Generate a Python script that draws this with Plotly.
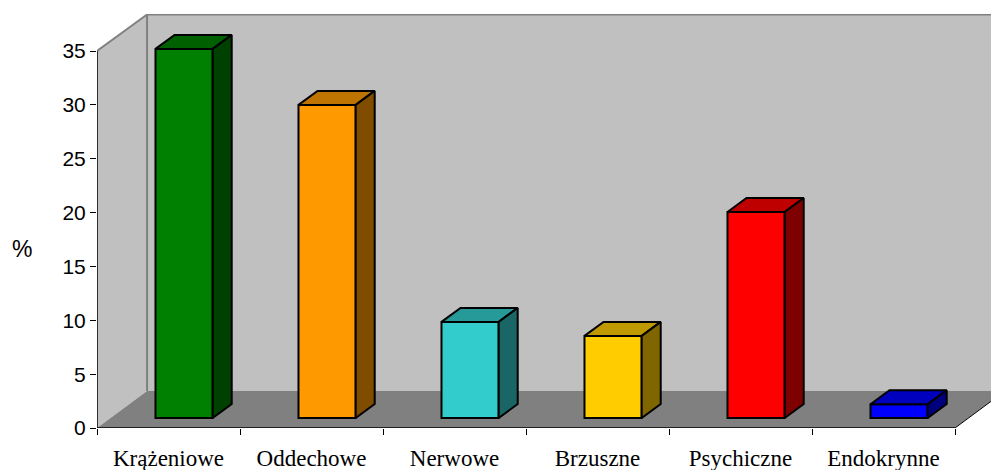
import plotly.graph_objects as go

categories = ["Krążeniowe", "Oddechowe", "Nerwowe", "Brzuszne", "Psychiczne", "Endokrynne"]
values = [35.2, 30.0, 9.85, 8.55, 20.05, 2.2]
front_colors = ["#008000", "#FF9900", "#33CCCC", "#FFCC00", "#FF0000", "#0000FF"]
top_colors = ["#006000", "#BF7300", "#269999", "#BF9900", "#BF0000", "#0000BF"]
side_colors = ["#004000", "#7F4C00", "#1A6666", "#7F6600", "#7F0000", "#00007F"]
y_ticks = [0, 5, 10, 15, 20, 25, 30, 35]

# Pseudo-3D box geometry, expressed in axis units
X_MAX = 894 / 143
Y_MAX = 38.44
WALL_DX, WALL_DY = 0.35, 3.44
BAR_DX, BAR_DY = 0.133, 1.3
BAR_WIDTH = 0.4
BAR_CENTER = 0.609
BAR_BASE = 0.93
N = len(categories)


def path(points):
    return "M " + " L ".join(f"{x},{y}" for x, y in points) + " Z"


def area(points, color, line="rgba(0,0,0,0)"):
    return dict(type="path", path=path(points), xref="x", yref="y", layer="below",
                fillcolor=color, line=dict(color=line, width=1.5))


def segment(x0, y0, x1, y1, color, width):
    return dict(type="line", x0=x0, y0=y0, x1=x1, y1=y1, xref="x", yref="y", layer="below",
                line=dict(color=color, width=width))


shapes = [
    area([(0, 0), (WALL_DX, WALL_DY), (WALL_DX, Y_MAX), (0, 35)], "#C0C0C0"),
    area([(WALL_DX, WALL_DY), (WALL_DX, Y_MAX), (X_MAX + 1, Y_MAX), (X_MAX + 1, WALL_DY)], "#C0C0C0"),
    area([(0, 0), (N, 0), (N + WALL_DX, WALL_DY), (WALL_DX, WALL_DY)], "#808080"),
    area([(N + WALL_DX, WALL_DY), (X_MAX + 1, WALL_DY), (X_MAX + 1, 0), (N, 0)], "#FFFFFF"),
    segment(0, 35, WALL_DX, Y_MAX - 0.05, "#808080", 2),
    segment(WALL_DX, Y_MAX - 0.05, X_MAX, Y_MAX - 0.05, "#808080", 2),
    segment(WALL_DX, WALL_DY, WALL_DX, Y_MAX, "#808080", 2),
    segment(N, 0, N + WALL_DX, WALL_DY, "#000000", 1),
    segment(0, 0, 0, 35, "#000000", 1.5),
    segment(0, 0, N, 0, "#000000", 1.5),
]

centers = [BAR_CENTER + i for i in range(N)]
fig = go.Figure()

# Front faces of the bars
fig.add_trace(go.Bar(
    x=centers,
    y=[v - BAR_BASE for v in values],
    base=BAR_BASE,
    width=BAR_WIDTH,
    marker=dict(color=front_colors, line=dict(color="#000000", width=2)),
    hoverinfo="skip",
))

# Top and side faces, offset from each front face along the depth direction
for i, (cx, v) in enumerate(zip(centers, values)):
    left, right = cx - BAR_WIDTH / 2, cx + BAR_WIDTH / 2
    top_x = [left, left + BAR_DX, right + BAR_DX, right, left]
    top_y = [v, v + BAR_DY, v + BAR_DY, v, v]
    side_x = [right, right + BAR_DX, right + BAR_DX, right, right]
    side_y = [BAR_BASE, BAR_BASE + BAR_DY, v + BAR_DY, v, BAR_BASE]
    for xs, ys, color in ((top_x, top_y, top_colors[i]), (side_x, side_y, side_colors[i])):
        fig.add_trace(go.Scatter(
            x=xs, y=ys, mode="lines", fill="toself", fillcolor=color,
            line=dict(color="#000000", width=2), hoverinfo="skip",
        ))

fig.update_layout(
    width=991, height=470,
    margin=dict(l=97, r=0, t=14, b=42, autoexpand=False),
    paper_bgcolor="#FFFFFF", plot_bgcolor="#FFFFFF",
    showlegend=False,
    shapes=shapes,
    xaxis=dict(
        range=[0, X_MAX], showgrid=False, zeroline=False, showline=False, automargin=False,
        tickmode="array", tickvals=[i + 0.5 for i in range(N)], ticktext=categories,
        ticks="", ticklabelstandoff=14,
        tickfont=dict(family="Liberation Serif", size=23, color="#000000"),
        minor=dict(tickmode="array", tickvals=list(range(N + 1)), ticks="outside",
                   ticklen=6, tickwidth=1, tickcolor="#000000", showgrid=False),
    ),
    yaxis=dict(
        range=[0, Y_MAX], showgrid=False, zeroline=False, showline=False, automargin=False,
        tickmode="array", tickvals=y_ticks, ticks="outside", ticklen=6, tickwidth=1,
        tickcolor="#000000", tickfont=dict(family="Liberation Sans", size=21, color="#000000"),
    ),
    annotations=[dict(
        text="%", xref="paper", yref="paper", x=-0.0977, y=0.4335, showarrow=False,
        font=dict(family="Liberation Sans", size=23, color="#000000"),
    )],
)

fig.write_html("out.html", config={"displayModeBar": False})
